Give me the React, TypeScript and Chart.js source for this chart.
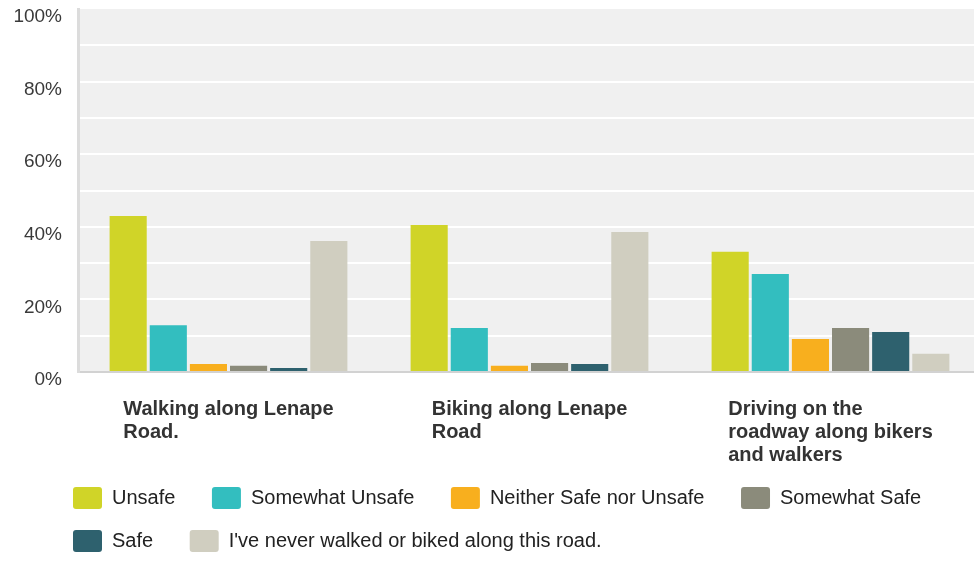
import React, { useEffect, useRef } from 'react';
import { Chart, registerables } from 'chart.js';

Chart.register(...registerables);

const categories: string[][] = [
  ['Walking along Lenape', 'Road.'],
  ['Biking along Lenape', 'Road'],
  ['Driving on the', 'roadway along bikers', 'and walkers'],
];

const seriesNames = [
  'Unsafe',
  'Somewhat Unsafe',
  'Neither Safe nor Unsafe',
  'Somewhat Safe',
  'Safe',
  "I've never walked or biked along this road.",
];

const unsafe = [43.0, 40.5, 33.1];
const somewhatUnsafe = [12.9, 12.1, 27.0];
const neither = [2.2, 1.7, 9.1];
const somewhatSafe = [1.7, 2.5, 12.1];
const safe = [1.1, 2.2, 11.0];
const neverUsed = [36.1, 38.6, 5.0];

const seriesColors = ['#d0d428', '#33bebf', '#f8af1e', '#8b8b7b', '#2e616e', '#d0cec0'];

const yMin = 0;
const yMax = 100;
const yStep = 10;
const yLabelEvery = 20;

const FONT = "'Liberation Sans', Arial, Helvetica, sans-serif";

const LEGEND_INDENT = 52;

const plotBg = {
  id: 'plotBg',
  beforeDraw(chart: any) {
    const { ctx, chartArea } = chart;
    ctx.save();
    ctx.fillStyle = '#f0f0f0';
    ctx.fillRect(chartArea.left, chartArea.top, chartArea.right - chartArea.left, chartArea.bottom - chartArea.top);
    ctx.restore();
  },
};

const legendIndent = {
  id: 'legendIndent',
  afterLayout(chart: any) {
    const lg = chart.legend;
    if (lg) {
      lg.left += LEGEND_INDENT;
      lg.right += LEGEND_INDENT;
    }
  },
};

const xLabels = {
  id: 'xLabels',
  afterDraw(chart: any) {
    const xs = chart.scales.x;
    const ctx = chart.ctx;
    ctx.save();
    ctx.font = `bold 20px ${FONT}`;
    ctx.fillStyle = '#333333';
    ctx.textAlign = 'left';
    ctx.textBaseline = 'alphabetic';
    (chart.data.labels as any[]).forEach((lab, i) => {
      const lines: string[] = Array.isArray(lab) ? lab : [String(lab)];
      const w = Math.max(...lines.map((l) => ctx.measureText(l).width));
      const x = xs.getPixelForTick(i) - w / 2;
      lines.forEach((l, j) => ctx.fillText(l, x, xs.top + 43 + j * 23));
    });
    ctx.restore();
  },
};

export default function App() {
  const ref = useRef<HTMLCanvasElement | null>(null);

  useEffect(() => {
    if (!ref.current) return;
    const values = [unsafe, somewhatUnsafe, neither, somewhatSafe, safe, neverUsed];
    const chart = new Chart(ref.current, {
      type: 'bar',
      data: {
        labels: categories as any,
        datasets: seriesNames.map((name, i) => ({
          label: name,
          data: values[i],
          backgroundColor: seriesColors[i],
          borderWidth: 0,
          categoryPercentage: 0.8,
          barPercentage: 0.925,
        })),
      },
      plugins: [plotBg, legendIndent, xLabels],
      options: {
        animation: false,
        responsive: false,
        devicePixelRatio: 1,
        layout: { autoPadding: false, padding: { left: 0, right: 19, top: 9, bottom: 0 } },
        plugins: {
          tooltip: { enabled: false },
          legend: {
            position: 'bottom',
            align: 'start',
            labels: {
              boxWidth: 29,
              boxHeight: 22,
              padding: 21,
              useBorderRadius: true,
              borderRadius: 3,
              color: '#222222',
              font: { family: FONT, size: 20 },
              generateLabels: (c: any) =>
                Chart.defaults.plugins.legend.labels
                  .generateLabels(c)
                  .map((l: any) => ({ ...l, text: l.text + ' \u2002', lineWidth: 0 })),
            },
          },
        },
        scales: {
          x: {
            grid: { display: false, drawTicks: false },
            border: { display: true, color: '#d2d2d2', width: 2 },
            ticks: { display: false },
            afterFit: (s: any) => {
              s.height = 94;
              s.paddingLeft = 0;
              s.paddingRight = 0;
            },
          },
          y: {
            min: yMin,
            max: yMax,
            grid: {
              drawTicks: false,
              lineWidth: 2,
              color: (c: any) =>
                c.tick && (c.tick.value === yMin || c.tick.value === yMax) ? 'rgba(0,0,0,0)' : '#ffffff',
            },
            border: { display: true, color: '#dcdcdc', width: 3 },
            ticks: {
              stepSize: yStep,
              padding: 16,
              labelOffset: 8,
              color: '#3a3a3a',
              font: { family: FONT, size: 19 },
              callback: (v: any) => (Number(v) % yLabelEvery === 0 ? `${v}%` : ''),
            },
            afterFit: (s: any) => {
              s.width = 78;
              s.paddingTop = 0;
              s.paddingBottom = 0;
            },
          },
        },
      } as any,
    });
    return () => chart.destroy();
  }, []);

  return (
    <div
      style={{
        position: 'fixed',
        left: 0,
        top: 0,
        width: 974,
        height: 585,
        overflow: 'hidden',
        background: '#ffffff',
      }}
    >
      <canvas ref={ref} width={1000} height={562} style={{ display: 'block' }} />
    </div>
  );
}
